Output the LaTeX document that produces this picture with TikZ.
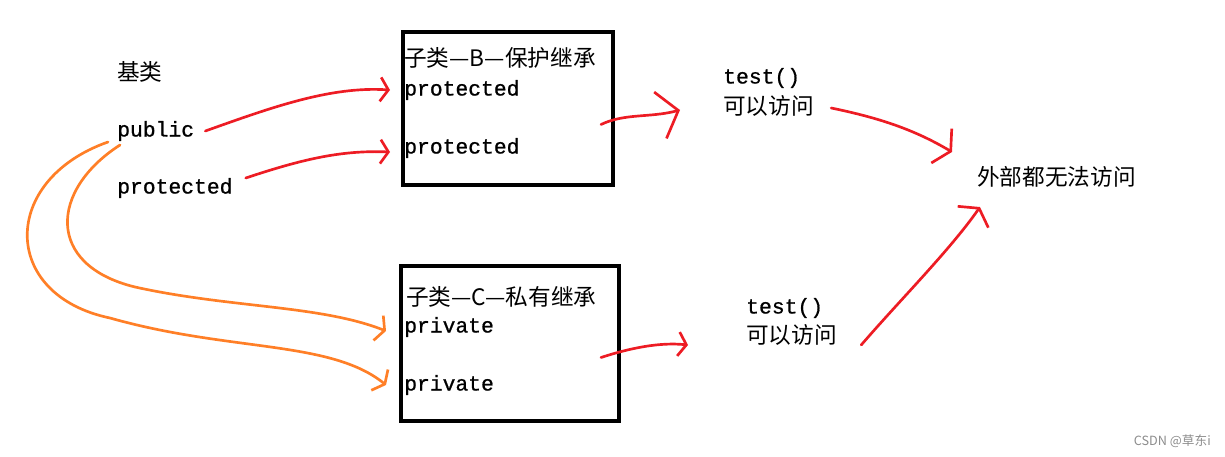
\documentclass[tikz,border=0pt]{standalone}
\usepackage{fontspec}
\usepackage{tikz}
\usetikzlibrary{positioning,calc,arrows.meta}
\newfontfamily\monofont[FakeBold=0.8]{Liberation Mono}
\newfontfamily\cjk{Noto Sans CJK SC}
\definecolor{penred}{RGB}{237,28,36}
\definecolor{penorange}{RGB}{255,127,39}
\tikzstyle{code} = [font=\monofont\fontsize{16}{18}\selectfont, inner sep=0pt, anchor=west]
\tikzstyle{hanzi} = [font=\cjk\fontsize{17}{20}\selectfont, inner sep=0pt, anchor=west]
\tikzstyle{classbox} = [draw=black, line width=3pt, anchor=north west, inner sep=0pt]
\tikzstyle{redarrow} = [draw=penred, line width=2pt, line cap=round, -{Straight Barb[length=6pt,width=18pt]}]
\tikzstyle{orangearrow} = [draw=penorange, line width=2pt, line cap=round, -{Straight Barb[length=5pt,width=20pt]}]
\begin{document}
\begin{tikzpicture}[x=0.75pt, y=-0.75pt]
	\useasboundingbox (0,0) rectangle (1225,457);

	% base class
	\node (base) [hanzi] at (117,72) {基类};
	\node (pub) [code] at (117,131) {public};
	\node (prot) [code] at (117,188) {protected};

	% class B, protected inheritance
	\node (boxB) [classbox, minimum width=157.5pt, minimum height=114.75pt] at (401,30) {};
	\node (titleB) [hanzi] at (404,58) {子类—B—保护继承};
	\node (bprotA) [code] at (404,90) {protected};
	\node (bprotB) [code] at (404,148) {protected};

	% class C, private inheritance
	\node (boxC) [classbox, minimum width=163.5pt, minimum height=116.25pt] at (399,264) {};
	\node (titleC) [hanzi] at (406,297) {子类—C—私有继承};
	\node (cprivA) [code] at (404,327) {private};
	\node (cprivB) [code] at (404,385) {private};

	% access
	\node (testB) [code] at (723,78) {test()};
	\node (accB) [hanzi] at (723,106) {可以访问};
	\node (testC) [code] at (746,308) {test()};
	\node (accC) [hanzi] at (746,335) {可以访问};
	\node (outside) [hanzi] at (977,177) {外部都无法访问};

	\node (mark) [font=\cjk\fontsize{9.5}{11}\selectfont, text=black!45, anchor=east, inner sep=0pt] at (1211,441) {CSDN @草东i};

	\draw [redarrow] ($(pub.east)+(11,0)$) .. controls (270,108) and (330,86) .. ($(bprotA.west)+(-14,0)$);
	\draw [redarrow] ($(prot.east)+(13,-10)$) .. controls (300,160) and (340,150) .. ($(bprotB.west)+(-14,4)$);
	\draw [orangearrow] ($(pub.west)+(-9,11)$) .. controls (0,180) and (0,295) .. (110,318) .. controls (230,352) and (330,340) .. ($(cprivB.west)+(-18,0)$);
	\draw [orangearrow] ($(pub.west)+(3,14)$) .. controls (50,190) and (45,265) .. (135,287) .. controls (230,308) and (320,305) .. ($(cprivA.west)+(-18,4)$);
	\draw [redarrow, -{Straight Barb[length=14pt,width=36pt]}] ($(boxB.east)+(-14,16)$) .. controls (625,113) and (650,118) .. ($(accB.west)+(-43,4)$);
	\draw [redarrow] ($(boxC.east)+(-20,14)$) .. controls (630,348) and (660,342) .. ($(accC.west)+(-58,10)$);
	\draw [redarrow, -{Straight Barb[length=8pt,width=30pt]}] ($(accB.east)+(17,2)$) .. controls (880,118) and (915,130) .. ($(outside.west)+(-25,-25)$);
	\draw [redarrow, -{Straight Barb[length=8pt,width=28pt]}] ($(accC.east)+(24,10)$) .. controls (900,300) and (950,250) .. ($(outside.west)+(3,30)$);

\end{tikzpicture}
\end{document}
